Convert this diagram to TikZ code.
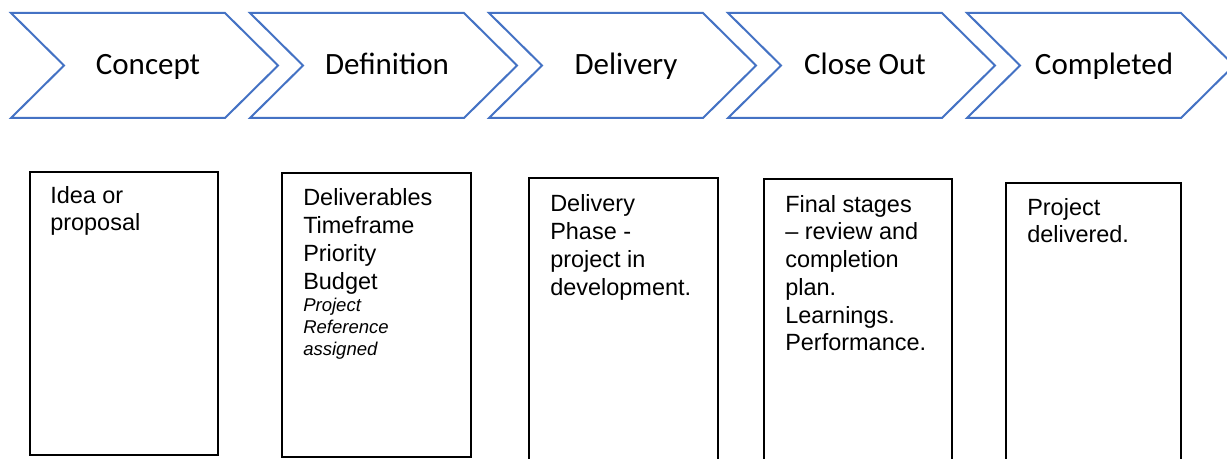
\documentclass[tikz,border=0pt]{standalone}
\usepackage{fontspec}
\setmainfont{Liberation Sans}
\newfontfamily\calib{Carlito}
\definecolor{chevblue}{HTML}{4472C4}
\newcommand{\bstrut}{\rule{0pt}{14pt}}
\newcommand{\sstrut}{\rule{0pt}{11pt}}
\begin{document}
\begin{tikzpicture}[x=0.75pt,y=-0.75pt,
  chev/.style={draw=chevblue,line width=1.5pt,line join=miter},
  stagebox/.style={draw=black,line width=1.5pt},
  chevtext/.style={font=\calib\fontsize{23.25}{28}\selectfont,anchor=base,inner sep=0pt},
  boxtext/.style={font=\fontsize{17.6}{20.8}\selectfont,align=left,anchor=north west,inner sep=0pt},
  smalltext/.style={font=\itshape\fontsize{13.9}{16.3}\selectfont,align=left,anchor=north west,inner sep=0pt}]
\clip (0,0) rectangle (1227,459);
\fill[white] (0,0) rectangle (1227,459);
% chevrons
\foreach \i/\t/\n in {0/Concept/c1,1/Definition/c2,2/Delivery/c3,3/Close Out/c4,4/Completed/c5} {
  \pgfmathsetmacro\xo{11+239*\i}
  \draw[chev] (\xo,13) -- ++(214,0) -- ++(53,52.5) -- ++(-53,52.5) -- ++(-214,0) -- ++(53,-52.5) -- cycle;
  \node[chevtext] (\n) at (\xo+137,75) {\t};
}
% boxes
\draw[stagebox] (30,172) rectangle (218,455);
\draw[stagebox] (282,173) rectangle (471,457);
\draw[stagebox] (529,178) rectangle (718,465);
\draw[stagebox] (764,179) rectangle (952,465);
\draw[stagebox] (1006,183) rectangle (1181,465);
% box texts
\node[boxtext] (t1) at (50,184.3) {\bstrut Idea or\\proposal};
\node[boxtext] (t2) at (303,187) {\bstrut Deliverables\\Timeframe\\Priority\\Budget};
\node[smalltext] (t2b) at (303,297) {\sstrut Project\\Reference\\assigned};
\node[boxtext] (t3) at (550,193) {\bstrut Delivery\\Phase -\\project in\\development.};
\node[boxtext] (t4) at (785,193.3) {\bstrut Final stages\\– review and\\completion\\plan.\\Learnings.\\Performance.};
\node[boxtext] (t5) at (1027,196.3) {\bstrut Project\\delivered.};
\end{tikzpicture}
\end{document}
